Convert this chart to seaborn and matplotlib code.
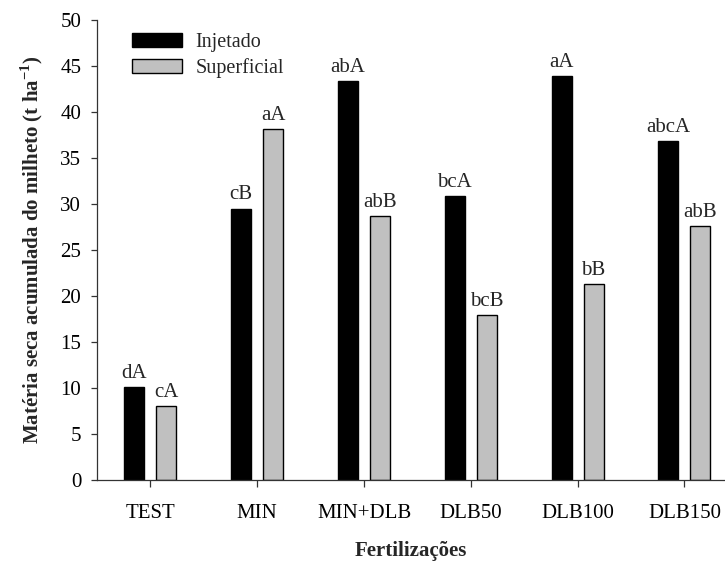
import numpy as np
import pandas as pd
import matplotlib
matplotlib.use("Agg")
import matplotlib.pyplot as plt
import seaborn as sns

# values
fertilizacoes = ["TEST", "MIN", "MIN+DLB", "DLB50", "DLB100", "DLB150"]
injetado = [10.1, 29.5, 43.4, 30.9, 43.9, 36.8]
superficial = [8.0, 38.1, 28.7, 17.9, 21.3, 27.6]
letras_injetado = ["dA", "cB", "abA", "bcA", "aA", "abcA"]
letras_superficial = ["cA", "aA", "abB", "bcB", "bB", "abB"]

FS = 15

sns.set_theme(style="ticks")
plt.rcParams["font.family"] = ["Liberation Serif", "DejaVu Serif"]
plt.rcParams["mathtext.fontset"] = "custom"
plt.rcParams["mathtext.rm"] = "Liberation Serif"
plt.rcParams["mathtext.bf"] = "Liberation Serif:bold"

df = pd.DataFrame({
    "Fertilizacao": fertilizacoes * 2,
    "Valor": injetado + superficial,
    "Modo": ["Injetado"] * len(fertilizacoes) + ["Superficial"] * len(fertilizacoes),
})

fig = plt.figure(figsize=(7.25, 5.63), dpi=100)
ax = fig.add_axes([0.1338, 0.1474, 0.8662, 0.8171])

sns.barplot(data=df, x="Fertilizacao", y="Valor", hue="Modo", order=fertilizacoes,
            palette={"Injetado": "black", "Superficial": "#c0c0c0"},
            width=0.6, gap=0.375, edgecolor="black", linewidth=1, ax=ax)

for cont, labels in zip(ax.containers, [letras_injetado, letras_superficial]):
    ax.bar_label(cont, labels=labels, padding=3, fontsize=FS)

ax.set_ylim(0, 50)
ax.set_yticks(np.arange(0, 51, 5))
ax.set_xlim(-0.5, 5.38)
ax.tick_params(axis="both", labelsize=FS, direction="out", width=0.9, colors="#333333",
               labelcolor="black")
ax.tick_params(axis="x", length=5, pad=12)
ax.tick_params(axis="y", length=4.3, pad=7)
for side in ["top", "right"]:
    ax.spines[side].set_visible(False)
for side in ["left", "bottom"]:
    ax.spines[side].set_color("#333333")
    ax.spines[side].set_linewidth(0.9)

ax.set_xlabel("Fertilizações", fontsize=FS, fontweight="bold", labelpad=13)
ax.set_ylabel(r"Matéria seca acumulada do milheto (t ha$^{\mathbf{-1}}$)",
              fontsize=FS, fontweight="bold", labelpad=11)

leg = ax.legend(loc="upper left", bbox_to_anchor=(0.027, 1.011), frameon=False,
                fontsize=14.5, handlelength=2.5, handleheight=0.7, handletextpad=0.65,
                labelspacing=0.3, title=None)

fig.savefig("out.png", dpi=100)
